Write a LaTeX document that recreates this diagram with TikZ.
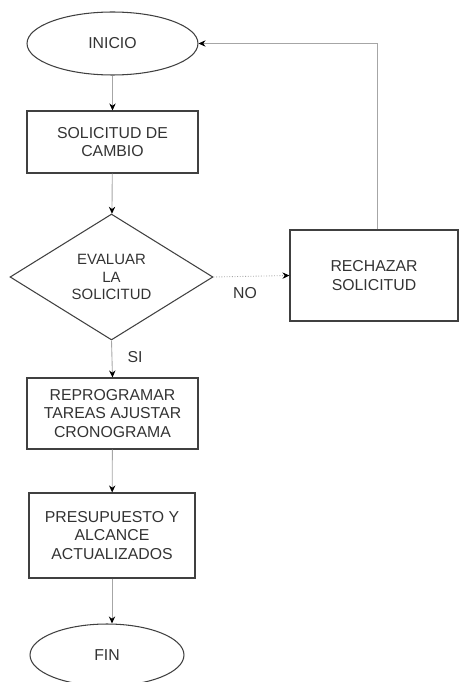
\documentclass[tikz,border=0pt]{standalone}
\usepackage{fontspec}
\setmainfont{Liberation Sans}
\usepackage{tikz}
\usetikzlibrary{shapes.geometric, arrows.meta}

\begin{document}
\begin{tikzpicture}[x=0.02cm, y=-0.02cm,
        caja/.style={draw=black!75, line width=0.6pt, align=center, text=black!80,
            font=\fontsize{9}{10.4}\selectfont, inner sep=0pt},
        terminal/.style={caja, ellipse},
        decision/.style={caja, diamond, font=\fontsize{8.5}{9.9}\selectfont},
        flecha/.style={draw=black!35, line width=0.5pt,
            -{Stealth[length=4pt, width=3.6pt, color=black]}},
        etiqueta/.style={text=black!80, font=\fontsize{9}{10.4}\selectfont}]
                \useasboundingbox (0,0) rectangle (459,682);
                \node[terminal, minimum width=3.42cm, minimum height=1.26cm] (inicio) at (112.5,43.5) {INICIO};
                \node[caja, minimum width=3.42cm, minimum height=1.24cm] (solicitud) at (112.5,142) {SOLICITUD DE\\CAMBIO};
                \node[decision, minimum width=4.06cm, minimum height=2.52cm] (evaluar) at (111.5,277) {EVALUAR\\LA\\SOLICITUD};
                \node[caja, minimum width=3.36cm, minimum height=1.82cm] (rechazar) at (374,275.5) {RECHAZAR\\SOLICITUD};
                \node[caja, minimum width=3.42cm, minimum height=1.42cm] (reprogramar) at (112.5,413.5) {REPROGRAMAR\\TAREAS AJUSTAR\\CRONOGRAMA};
                \node[caja, minimum width=3.32cm, minimum height=1.70cm] (presupuesto) at (112,535.5) {PRESUPUESTO Y\\ALCANCE\\ACTUALIZADOS};
                \node[terminal, minimum width=3.08cm, minimum height=1.24cm] (fin) at (107,655) {FIN};

                \draw[flecha] (inicio) -- (solicitud);
                \draw[flecha] (solicitud) -- (evaluar);
                \draw[flecha, densely dotted] (evaluar.east) -- (rechazar.west);
                \node[etiqueta] (no) at (245,293) {NO};
                \draw[flecha] (evaluar.south) -- (reprogramar.north);
                \node[etiqueta] (si) at (135,357) {SI};
                \draw[flecha] (reprogramar) -- (presupuesto);
                \draw[flecha] (presupuesto.south) -- (presupuesto.south |- fin.north);
                \draw[flecha] ([xshift=0.06cm]rechazar.north) |- (inicio.east);
            \end{tikzpicture}
\end{document}
